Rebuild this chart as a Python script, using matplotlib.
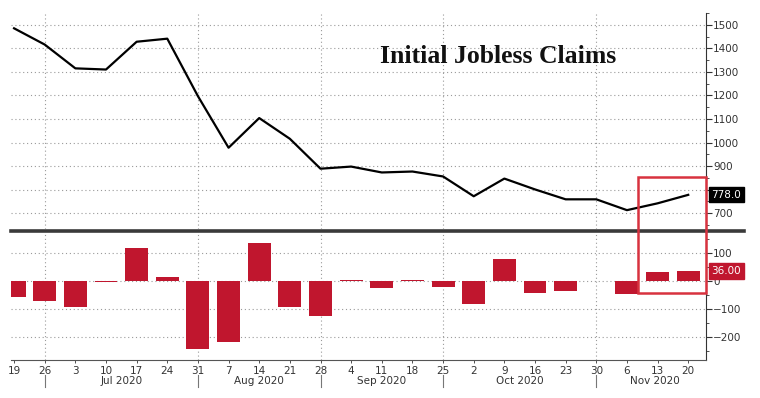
import numpy as np
import matplotlib.pyplot as plt
from matplotlib.lines import Line2D
from matplotlib.patches import Rectangle
import matplotlib.transforms as mtransforms

# weekly dates Jun 19 .. Nov 20 2020
day_labels = ['19', '26', '3', '10', '17', '24', '31', '7', '14', '21', '28', '4',
              '11', '18', '25', '2', '9', '16', '23', '30', '6', '13', '20']
claims = [1485, 1416, 1315, 1310, 1428, 1441, 1197, 978, 1104, 1016, 889, 898,
          873, 877, 856, 772, 847, 801, 759, 759, 713, 742, 778]
change = [-56, -73, -94, -5, 117, 15, -244, -219, 137, -92, -125, 5,
          -25, 5, -21, -82, 77, -42, -36, 0, -45, 32, 36]
month_labels = ['Jul 2020', 'Aug 2020', 'Sep 2020', 'Oct 2020', 'Nov 2020']
month_pos = [3.5, 8.0, 12.0, 16.5, 20.9]
month_breaks = [1, 6, 10, 14, 19]

W, H = 760, 398
fig = plt.figure(figsize=(W / 100, H / 100), dpi=100)
fig.patch.set_facecolor('white')

def px_box(x0, y0, x1, y1):
    return [x0 / W, 1 - y1 / H, (x1 - x0) / W, (y1 - y0) / H]

ax1 = fig.add_axes(px_box(11, 13, 706, 229))
ax2 = fig.add_axes(px_box(11, 232, 706, 360))

x = np.arange(len(claims))
red = '#c0162e'
grid_kw = dict(color='#9a9a9a', linestyle=(0, (1, 2.5)), linewidth=0.8)

# top panel
ax1.plot(x, claims, color='black', linewidth=1.6, zorder=3)
ax1.set_xlim(-0.1, 22.58)
ax1.set_ylim(633, 1542)
top_ticks = np.arange(700, 1501, 100)
ax1.set_yticks(top_ticks)
# 800 is hidden behind the last-value box in the original
ax1.set_yticklabels(['' if t == 800 else str(t) for t in top_ticks])
ax1.set_yticks(np.arange(650, 1551, 50), minor=True)
ax1.yaxis.tick_right()
for y in top_ticks:
    ax1.axhline(y, zorder=1, **grid_kw)
for b in month_breaks:
    ax1.axvline(b, zorder=1, **grid_kw)
ax1.set_xticks([])
ax1.text(15.8, 1365, 'Initial Jobless Claims', ha='center', va='center',
         fontsize=18.5, fontweight='bold', family='Liberation Serif', color='#111111')

# bottom panel
ax2.bar(x, change, width=0.75, color=red, zorder=3)
ax2.set_xlim(-0.1, 22.58)
ax2.set_ylim(-282, 175)
ax2.set_yticks([-200, -100, 0, 100])
ax2.set_yticks([-250, -150, -50, 50, 150], minor=True)
ax2.yaxis.tick_right()
for y in [-200, -100, 0, 100]:
    ax2.axhline(y, zorder=1, **grid_kw)
for b in month_breaks:
    ax2.axvline(b, zorder=1, **grid_kw)
ax2.set_xticks(x)
ax2.set_xticklabels(day_labels)

tr = mtransforms.blended_transform_factory(ax2.transData, ax2.transAxes)
for name, pos in zip(month_labels, month_pos):
    ax2.text(pos, -0.164, name, transform=tr, ha='center', va='center',
             fontsize=7.5, color='#333333')
for b in month_breaks:
    ax2.plot([b, b], [-0.117, -0.211], transform=tr, color='#777777',
             linewidth=0.8, clip_on=False)

for ax in (ax1, ax2):
    for side in ('left', 'top'):
        ax.spines[side].set_visible(False)
    ax.spines['right'].set_color('#333333')
    ax.spines['right'].set_linewidth(0.8)
    ax.tick_params(axis='y', which='major', direction='out', length=4, width=0.8,
                   colors='#333333', labelsize=7.5, pad=1)
    ax.tick_params(axis='y', which='minor', direction='out', length=2, width=0.6,
                   colors='#333333')
ax1.spines['bottom'].set_visible(False)
ax2.spines['bottom'].set_color('#555555')
ax2.spines['bottom'].set_linewidth(0.8)
ax2.tick_params(axis='x', direction='out', length=2, width=0.6, colors='#333333',
                labelsize=7.5, pad=2)

# last-value labels
ax1.annotate(f'{claims[-1]:.1f}', xy=(1.0, claims[-1]),
             xycoords=ax1.get_yaxis_transform(), xytext=(4, 0),
             textcoords='offset points', ha='left', va='center', fontsize=7.5,
             color='white', bbox=dict(boxstyle='square,pad=0.25', fc='black', ec='black'),
             zorder=5)
ax2.annotate(f'{change[-1]:.2f}', xy=(1.0, change[-1]),
             xycoords=ax2.get_yaxis_transform(), xytext=(4, 0),
             textcoords='offset points', ha='left', va='center', fontsize=7.5,
             color='white', bbox=dict(boxstyle='square,pad=0.25', fc=red, ec=red),
             zorder=5)

# panel separator
fig.add_artist(Line2D([11 / W, 744 / W], [1 - 230.5 / H, 1 - 230.5 / H],
                      color='#3a3a3a', linewidth=2.6))

# highlight box spanning both panels
inv = fig.transFigure.inverted()
p0 = inv.transform(ax2.transData.transform((20.35, -43)))
p1 = inv.transform(ax1.transData.transform((22.58, 852)))
fig.add_artist(Rectangle(p0, p1[0] - p0[0], p1[1] - p0[1], fill=False,
                         edgecolor='#d8323f', linewidth=1.8, zorder=10))

fig.savefig('out.png', dpi=100, facecolor='white')
